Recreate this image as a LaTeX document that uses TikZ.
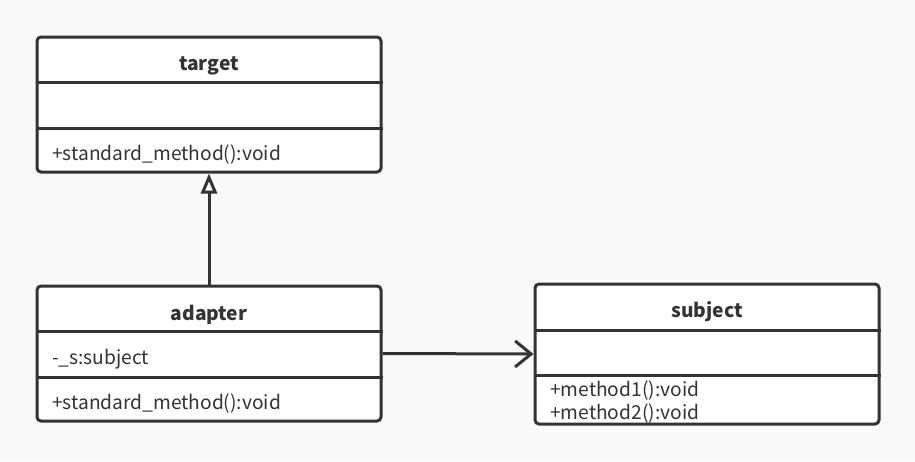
\documentclass[tikz,border=0pt]{standalone}
\usepackage{fontspec}
\setmainfont{Noto Sans CJK SC}
\usetikzlibrary{arrows.meta}
\definecolor{umlline}{HTML}{333333}
\definecolor{umlbg}{HTML}{F9F9F9}
\begin{document}
\begin{tikzpicture}[x=1pt,y=-1pt,
  classbox/.style={draw=umlline,fill=white,line width=3pt,rounded corners=4pt,minimum width=344pt,minimum height=135pt,inner sep=0pt},
  sepline/.style={draw=umlline,line width=3pt},
  title/.style={font=\fontsize{19.2}{23}\selectfont\bfseries,text=umlline},
  member/.style={font=\fontsize{19.2}{23}\selectfont,text=umlline,anchor=west,inner sep=0pt}]
\fill[umlbg] (0,0) rectangle (915,461);
\useasboundingbox (0,0) rectangle (915,461);

\node[classbox] (target) at (209,104.5) {};
\node[classbox] (adapter) at (209,353.5) {};
\node[classbox,minimum height=140pt] (subject) at (707,354) {};

\draw[sepline] (target.west |- 0,82) -- (target.east |- 0,82);
\draw[sepline] (target.west |- 0,128) -- (target.east |- 0,128);
\draw[sepline] (adapter.west |- 0,331) -- (adapter.east |- 0,331);
\draw[sepline] (adapter.west |- 0,377) -- (adapter.east |- 0,377);
\draw[sepline] (subject.west |- 0,330) -- (subject.east |- 0,330);
\draw[sepline] (subject.west |- 0,375) -- (subject.east |- 0,375);

\node[title] (targetname) at (209,66) {target};
\node[member] (targetop) at (52,155) {+standard\_method():void};
\node[title] (adaptername) at (209,315) {adapter};
\node[member] (adapterattr) at (52,359) {-\_s:subject};
\node[member] (adapterop) at (52,404) {+standard\_method():void};
\node[title] (subjectname) at (707,312) {subject};
\node[member] (subjectopa) at (550,391) {+method1():void};
\node[member] (subjectopb) at (550,414) {+method2():void};

\draw[umlline,line width=3pt,-{Triangle[open,length=20pt,width=16pt]}] (adapter.north) -- (target.south);
\draw[umlline,line width=3pt,-{Straight Barb[length=16pt,width=26pt]}] (adapter.east) -- (subject.west);
\end{tikzpicture}
\end{document}
